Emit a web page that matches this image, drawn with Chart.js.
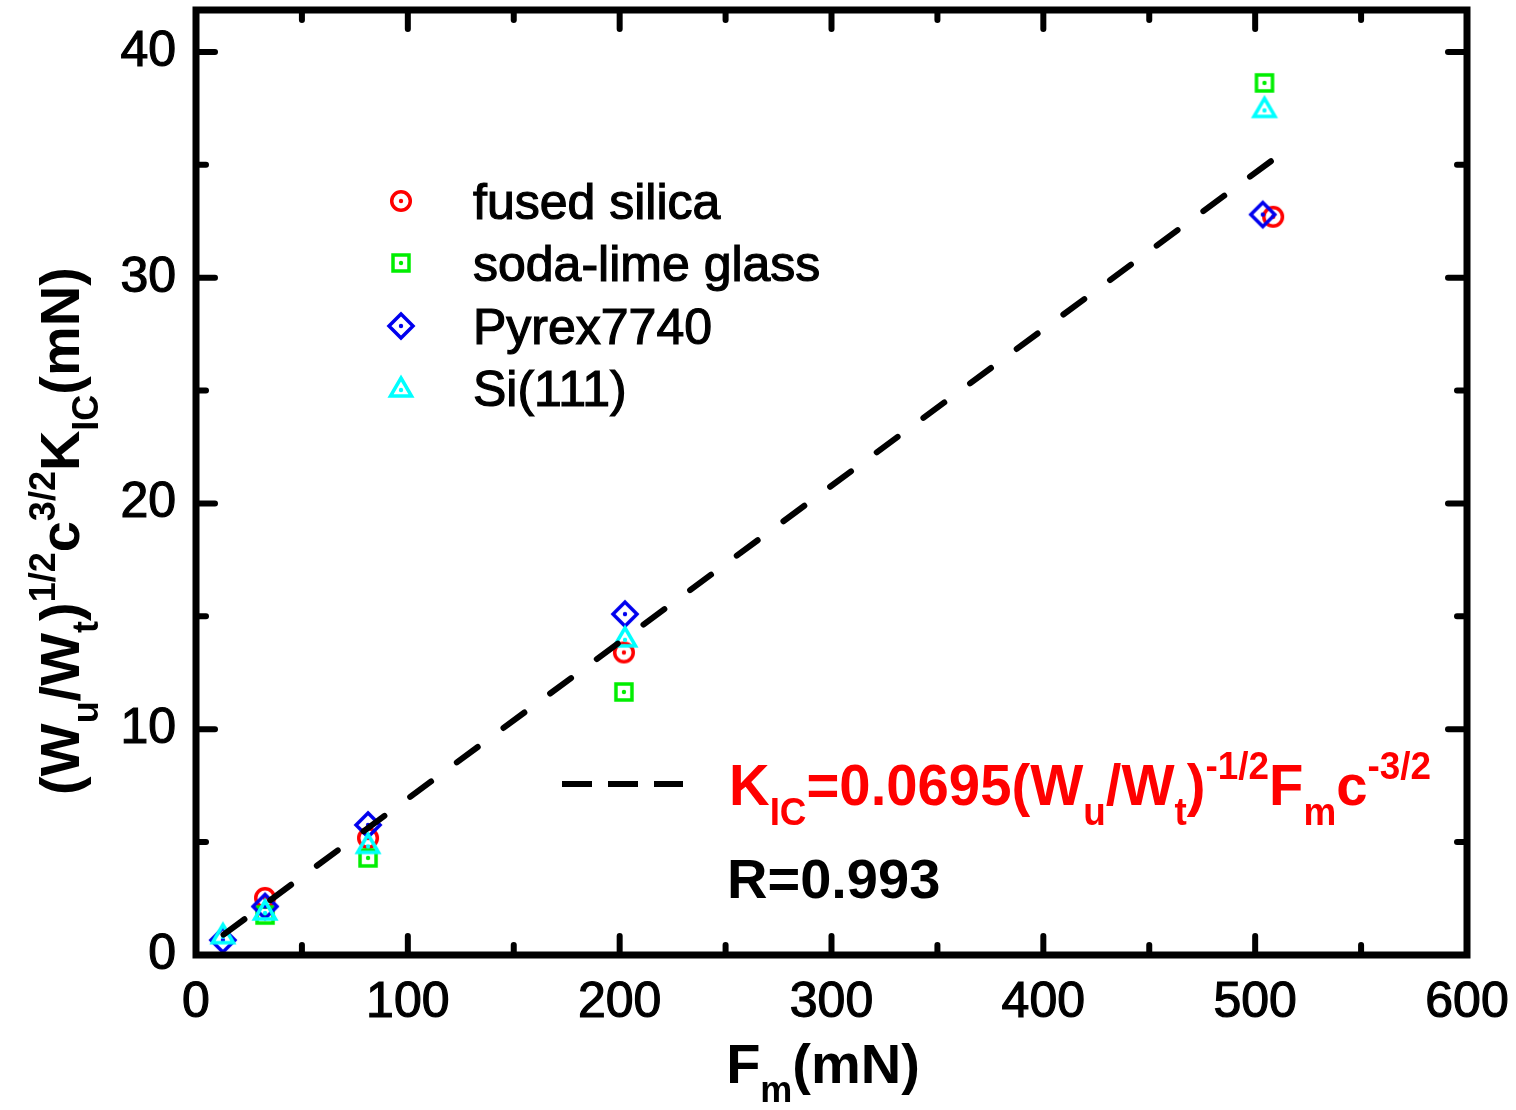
<!DOCTYPE html>
<html>
<head>
<meta charset="utf-8">
<script src="https://cdn.jsdelivr.net/npm/chart.js@4.4.1/dist/chart.umd.min.js"></script>
<style>
  html, body { margin: 0; padding: 0; background: #fff; }
  #wrap { width: 1516px; height: 1110px; }
</style>
</head>
<body>
<div id="wrap"><canvas id="chart" width="1516" height="1110"></canvas></div>
<script>
// --- data ---
const fusedX = [32.6, 81.2, 202, 508.5];
const fusedY = [2.53, 5.18, 13.4, 32.7];
const sodaX = [32.6, 81.2, 202, 504.4];
const sodaY = [1.77, 4.3, 11.65, 38.63];
const pyrexX = [12.7, 32.6, 81.2, 202.5, 503.6];
const pyrexY = [0.66, 2.15, 5.76, 15.1, 32.8];
const siX = [12.7, 32.6, 81.2, 202.5, 504.4];
const siY = [0.9, 1.95, 4.9, 14.05, 37.5];
// fitted line ends
const fitX = [13, 508];
const fitY = [0.9, 35.2];

const seriesNames = ['fused silica', 'soda-lime glass', 'Pyrex7740', 'Si(111)'];
const xTicks = [0, 100, 200, 300, 400, 500, 600];
const xMinor = [50, 150, 250, 350, 450, 550];
const yTicks = [0, 10, 20, 30, 40];
const yMinor = [5, 15, 25, 35];

const FONT = '"Liberation Sans", Arial, sans-serif';

const pts = (xs, ys) => xs.map((x, i) => ({ x: x, y: ys[i] }));

// hollow markers with a dot in the middle, like the Origin symbols
function makeMarker(shape, color) {
    const c = document.createElement('canvas');
    c.width = 34; c.height = 34;
    const g = c.getContext('2d');
    const m = 17;
    g.strokeStyle = color;
    g.fillStyle = color;
    g.lineWidth = 3.5;
    g.beginPath();
    if (shape === 'circle') {
        g.arc(m, m, 9.3, 0, Math.PI * 2);
    } else if (shape === 'square') {
        g.rect(m - 8, m - 8, 16, 16);
    } else if (shape === 'diamond') {
        g.moveTo(m, m - 12); g.lineTo(m + 12, m); g.lineTo(m, m + 12); g.lineTo(m - 12, m); g.closePath();
    } else {
        g.moveTo(m, m - 10); g.lineTo(m + 10.5, m + 8); g.lineTo(m - 10.5, m + 8); g.closePath();
    }
    g.stroke();
    g.beginPath();
    g.arc(m, shape === 'triangle' ? m + 2 : m, 2.2, 0, Math.PI * 2);
    g.fill();
    return c;
}

const markers = [
    makeMarker('circle', '#ff0000'),
    makeMarker('square', '#00ee00'),
    makeMarker('diamond', '#0000ee'),
    makeMarker('triangle', '#00ffff')
];

// rich text: parts = [text, size, dy, color]
function richWidth(ctx, parts) {
    let w = 0;
    parts.forEach(p => { ctx.font = 'bold ' + p[1] + 'px ' + FONT; w += ctx.measureText(p[0]).width; });
    return w;
}
function drawRich(ctx, parts, x, y) {
    let cx = x;
    parts.forEach(p => {
        ctx.font = 'bold ' + p[1] + 'px ' + FONT;
        ctx.fillStyle = p[3] || '#000';
        ctx.fillText(p[0], cx, y + p[2]);
        cx += ctx.measureText(p[0]).width;
    });
}

const B = 56, S = 36, SUB = 19, SUP = -24;
const yTitle = [['(W', B, 0], ['u', S, SUB], ['/W', B, 0], ['t', S, SUB], [')', B, 0], ['1/2', S, SUP],
    ['c', B, 0], ['3/2', S, SUP], ['K', B, 0], ['IC', S, SUB], ['(mN)', B, 0]];
const xTitle = [['F', B, 0], ['m', S, SUB], ['(mN)', B, 0]];
const R = '#ff0000';
const formula = [['K', 58, 0, R], ['IC', 38, 20, R], ['=0.0695(W', 58, 0, R], ['u', 38, 20, R], ['/W', 58, 0, R],
    ['t', 38, 20, R], [')', 58, 0, R], ['-1/2', 38, -26, R], ['F', 58, 0, R], ['m', 38, 20, R], ['c', 58, 0, R], ['-3/2', 38, -26, R]];

const framePlugin = {
    id: 'frame',
    afterDatasetsDraw(chart) {
        const ctx = chart.ctx;
        const a = chart.chartArea;
        const xs = chart.scales.x, ys = chart.scales.y;
        ctx.save();
        ctx.strokeStyle = '#000';
        ctx.lineCap = 'round';
        ctx.lineWidth = 6;
        const tick = (vals, len) => {
            vals.forEach(v => {
                const px = xs.getPixelForValue(v);
                ctx.beginPath(); ctx.moveTo(px, a.bottom); ctx.lineTo(px, a.bottom - len); ctx.stroke();
                ctx.beginPath(); ctx.moveTo(px, a.top); ctx.lineTo(px, a.top + len); ctx.stroke();
            });
        };
        const tickY = (vals, len) => {
            vals.forEach(v => {
                const py = ys.getPixelForValue(v);
                ctx.beginPath(); ctx.moveTo(a.left, py); ctx.lineTo(a.left + len, py); ctx.stroke();
                ctx.beginPath(); ctx.moveTo(a.right, py); ctx.lineTo(a.right - len, py); ctx.stroke();
            });
        };
        tick(xTicks, 19); tick(xMinor, 10);
        tickY(yTicks, 19); tickY(yMinor, 10);
        ctx.lineCap = 'square';
        ctx.lineWidth = 7;
        ctx.strokeRect(a.left, a.top, a.right - a.left, a.bottom - a.top);
        ctx.restore();
    },
    afterDraw(chart) {
        const ctx = chart.ctx;
        ctx.save();
        ctx.textBaseline = 'alphabetic';
        // x title
        const wx = richWidth(ctx, xTitle);
        drawRich(ctx, xTitle, 823 - wx / 2, 1083);
        // y title, rotated
        const wy = richWidth(ctx, yTitle);
        ctx.save();
        ctx.translate(79, 531);
        ctx.rotate(-Math.PI / 2);
        drawRich(ctx, yTitle, -wy / 2, 0);
        ctx.restore();
        // legend
        const rows = [201, 263, 326, 388];
        ctx.font = '50px ' + FONT;
        ctx.fillStyle = '#000';
        ctx.strokeStyle = '#000';
        ctx.lineWidth = 1.2;
        rows.forEach((ry, i) => {
            ctx.drawImage(markers[i], 401 - 17, ry - 17);
            ctx.fillText(seriesNames[i], 473, ry + 18);
            ctx.strokeText(seriesNames[i], 473, ry + 18);
        });
        // fit legend
        ctx.lineWidth = 6;
        ctx.setLineDash([30, 16]);
        ctx.beginPath(); ctx.moveTo(562, 784); ctx.lineTo(683, 784); ctx.stroke();
        ctx.setLineDash([]);
        const wf = richWidth(ctx, formula);
        ctx.save();
        ctx.translate(729, 805);
        ctx.scale(702 / wf, 1);
        drawRich(ctx, formula, 0, 0);
        ctx.restore();
        ctx.font = 'bold 56px ' + FONT;
        ctx.fillStyle = '#000';
        ctx.fillText('R=0.993', 727, 898);
        ctx.restore();
    }
};

new Chart(document.getElementById('chart'), {
    type: 'scatter',
    data: {
        datasets: [
            { label: 'fit', type: 'line', data: pts(fitX, fitY), showLine: true, borderColor: '#000', borderWidth: 6,
              borderDash: [26, 32], borderCapStyle: 'round', pointRadius: 0, fill: false, order: 0 },
            { label: seriesNames[0], data: pts(fusedX, fusedY), pointStyle: markers[0], order: 4 },
            { label: seriesNames[1], data: pts(sodaX, sodaY), pointStyle: markers[1], order: 3 },
            { label: seriesNames[2], data: pts(pyrexX, pyrexY), pointStyle: markers[2], order: 2 },
            { label: seriesNames[3], data: pts(siX, siY), pointStyle: markers[3], order: 1 }
        ]
    },
    options: {
        responsive: false,
        animation: false,
        devicePixelRatio: 1,
        layout: { padding: { top: 10, right: 49, left: 0, bottom: 0 } },
        plugins: { legend: { display: false }, tooltip: { enabled: false } },
        scales: {
            x: {
                type: 'linear', min: 0, max: 600,
                grid: { display: false, drawTicks: false }, border: { display: false },
                afterBuildTicks: s => { s.ticks = xTicks.map(v => ({ value: v })); },
                afterFit: s => { s.height = 155; s.paddingLeft = 0; s.paddingRight = 0; },
                ticks: { padding: 18, color: '#000', textStrokeColor: '#000', textStrokeWidth: 1.2,
                         font: { family: FONT, size: 50 } }
            },
            y: {
                type: 'linear', min: 0, max: 41.86,
                grid: { display: false, drawTicks: false }, border: { display: false },
                afterBuildTicks: s => { s.ticks = yTicks.map(v => ({ value: v })); },
                afterFit: s => { s.width = 196; s.paddingTop = 0; s.paddingBottom = 0; },
                ticks: { padding: 20, color: '#000', textStrokeColor: '#000', textStrokeWidth: 1.2,
                         font: { family: FONT, size: 50 } }
            }
        }
    },
    plugins: [framePlugin]
});
</script>
</body>
</html>
